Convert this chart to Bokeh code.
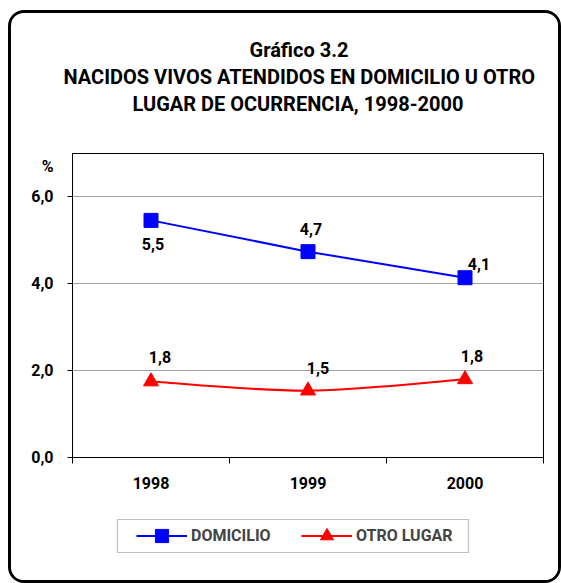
from bokeh.plotting import figure
from bokeh.layouts import column
from bokeh.models import (Range1d, FixedTicker, CustomJSTickFormatter, Title,
                          Legend, LegendItem, BoxAnnotation)
from bokeh.embed import file_html
from bokeh.resources import INLINE
from bokeh.core.properties import value

# ---- data ----
years = ["1998", "1999", "2000"]
domicilio = [5.46, 4.74, 4.14]
otro_lugar = [1.75, 1.54, 1.80]
domicilio_labels = ["5,5", "4,7", "4,1"]
otro_labels = ["1,8", "1,5", "1,8"]
y_ticks = [0, 2, 4, 6]
series_names = ["DOMICILIO", "OTRO LUGAR"]
title_lines = ["Gráfico 3.2",
               "NACIDOS VIVOS ATENDIDOS EN DOMICILIO U OTRO",
               "LUGAR DE OCURRENCIA, 1998-2000"]
y_unit = "%"
UNIT_POS = 6.7   # where the "%" unit label sits on the y axis

FONT = "Roboto"
FS = "16px"
TFS = "20px"
BLUE = "#0000ff"
RED = "#ff0000"
W = 547
H_MAIN = 497
H_LEG = 70
FL, FR = 61, 532          # plot frame left / right inside the canvas
TITLE_OFFSETS = [177, -9, 60]
xs = [i + 0.5 for i in range(len(years))]

p = figure(width=W, height=H_MAIN, output_backend="svg", toolbar_location=None,
           x_range=Range1d(0, len(years)), y_range=Range1d(0, 7),
           min_border_left=FL, min_border_right=W - FR, min_border_top=140,
           min_border_bottom=53)
p.outline_line_color = "black"
p.outline_line_width = 1
p.background_fill_color = "white"
p.border_fill_color = "white"

p.xgrid.visible = False
p.ygrid.ticker = FixedTicker(ticks=y_ticks)
p.ygrid.grid_line_color = "#a0a0a0"
p.ygrid.grid_line_width = 1

# y axis: major ticks carry labels (incl. the unit), minor ticks draw tick marks
p.yaxis.ticker = FixedTicker(ticks=y_ticks + [UNIT_POS], minor_ticks=y_ticks)
p.yaxis.formatter = CustomJSTickFormatter(
    args=dict(unit=y_unit, upos=UNIT_POS),
    code="return Math.abs(tick - upos) < 1e-6 ? unit : tick.toFixed(1).replace('.', ',')")
p.yaxis.major_tick_out = 0
p.yaxis.major_tick_in = 0
p.yaxis.minor_tick_out = 5
p.yaxis.minor_tick_in = 0
p.yaxis.minor_tick_line_color = "black"
p.yaxis.major_label_standoff = 14
p.yaxis.axis_line_color = "black"

# x axis: labels at category centres, tick marks at category boundaries
p.xaxis.ticker = FixedTicker(ticks=xs, minor_ticks=list(range(len(years) + 1)))
p.xaxis.formatter = CustomJSTickFormatter(args=dict(labels=years),
                                          code="return labels[Math.floor(tick)]")
p.xaxis.major_tick_out = 0
p.xaxis.major_tick_in = 0
p.xaxis.minor_tick_out = 6
p.xaxis.minor_tick_in = 0
p.xaxis.minor_tick_line_color = "black"
p.xaxis.major_label_standoff = 13
p.xaxis.axis_line_color = "black"

for ax in (p.xaxis, p.yaxis):
    ax.major_label_text_font = FONT
    ax.major_label_text_font_style = "bold"
    ax.major_label_text_font_size = FS
    ax.major_label_text_color = "black"

# blue series (straight)
p.line(xs, domicilio, line_color=BLUE, line_width=2)
p.scatter(xs, domicilio, marker="square", size=14, fill_color=BLUE, line_color=BLUE)

# red series (smoothed, Bezier through the points)
n = len(xs)
pts = list(zip(xs, otro_lugar))
bx0, by0, bx1, by1, cx0, cy0, cx1, cy1 = [], [], [], [], [], [], [], []
for i in range(n - 1):
    pm = pts[max(i - 1, 0)]
    p0 = pts[i]
    p1 = pts[i + 1]
    p2 = pts[min(i + 2, n - 1)]
    bx0.append(p0[0]); by0.append(p0[1])
    bx1.append(p1[0]); by1.append(p1[1])
    cx0.append(p0[0] + (p1[0] - pm[0]) / 6); cy0.append(p0[1] + (p1[1] - pm[1]) / 6)
    cx1.append(p1[0] - (p2[0] - p0[0]) / 6); cy1.append(p1[1] - (p2[1] - p0[1]) / 6)
p.bezier(x0=bx0, y0=by0, x1=bx1, y1=by1, cx0=cx0, cy0=cy0, cx1=cx1, cy1=cy1,
         line_color=RED, line_width=2)
p.scatter(xs, otro_lugar, marker="triangle", size=15, fill_color=RED, line_color=RED)

# value labels
p.text(xs, domicilio, text=domicilio_labels, x_offset=[2, 3, 14], y_offset=[24, -23, -14],
       text_font=value(FONT), text_font_style="bold", text_font_size=FS,
       text_align="center", text_baseline="alphabetic", text_color="black")
p.text(xs, otro_lugar, text=otro_labels, x_offset=[9, 10, 7], y_offset=[-25, -23, -23],
       text_font=value(FONT), text_font_style="bold", text_font_size=FS,
       text_align="center", text_baseline="alphabetic", text_color="black")

# title: a blank spacer next to the plot, then the lines from the bottom one outward
p.add_layout(Title(text=" ", standoff=16, text_font_size="17px"), "above")
for txt, off in zip(reversed(title_lines), reversed(TITLE_OFFSETS)):
    p.add_layout(Title(text=txt, align="left", offset=off, standoff=1,
                       text_font=FONT, text_font_style="bold", text_font_size=TFS,
                       text_color="black"), "above")

# ---- legend strip (own small canvas; its frame is aligned with the plot's) ----
lf = figure(width=W, height=H_LEG, output_backend="svg", toolbar_location=None,
            x_range=Range1d(FL, FR), y_range=Range1d(H_LEG, 0),
            x_axis_type=None, y_axis_type=None, min_border=0,
            min_border_left=FL, min_border_right=W - FR)
lf.outline_line_color = None
lf.background_fill_color = "white"
lf.border_fill_color = "white"
lf.add_layout(BoxAnnotation(left=106, right=457, top=9, bottom=42,
                            fill_color="white", fill_alpha=1,
                            line_color="#333333", line_width=1.2))
lg_blue_line = lf.line(xs, domicilio, line_color=BLUE, line_width=2, visible=False)
lg_blue_pts = lf.scatter(xs, domicilio, marker="square", fill_color=BLUE,
                         line_color=BLUE, visible=False)
lg_red_line = lf.line(xs, otro_lugar, line_color=RED, line_width=2, visible=False)
lg_red_pts = lf.scatter(xs, otro_lugar, marker="triangle", fill_color=RED,
                        line_color=RED, visible=False)
legend = Legend(items=[LegendItem(label=series_names[0], renderers=[lg_blue_line, lg_blue_pts]),
                       LegendItem(label=series_names[1], renderers=[lg_red_line, lg_red_pts])],
                orientation="horizontal", location=(125 - FL, 28), padding=0, margin=0,
                spacing=4, glyph_width=51, glyph_height=33, label_height=33,
                label_width=106, label_standoff=4,
                border_line_alpha=0, background_fill_alpha=0,
                inactive_fill_alpha=0,
                label_text_font=FONT, label_text_font_style="bold",
                label_text_font_size=FS, label_text_baseline="middle")
lf.add_layout(legend)

layout = column(p, lf, spacing=0,
                styles={"border": "3px solid black", "border-radius": "16px",
                        "box-sizing": "content-box", "margin-left": "8px",
                        "margin-top": "10px", "overflow": "hidden",
                        "background": "white"})

open("out.html", "w").write(file_html(layout, INLINE))
